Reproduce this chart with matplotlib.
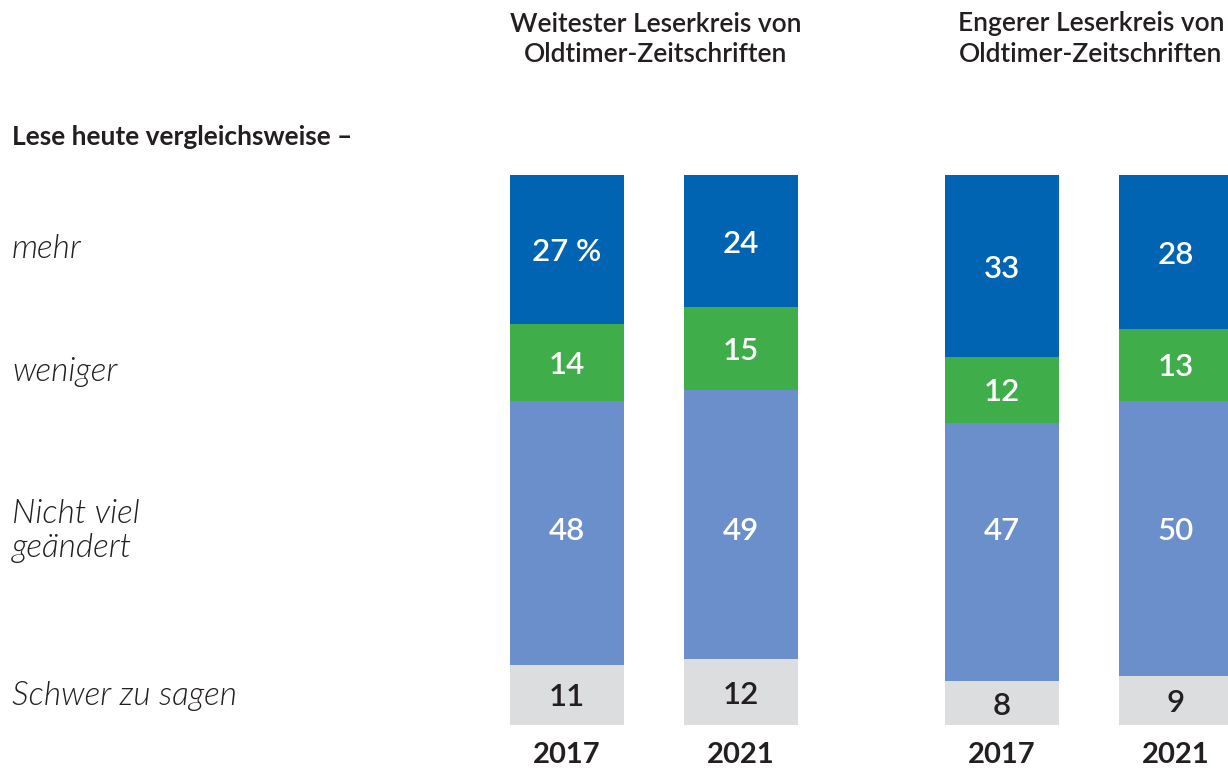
import matplotlib
matplotlib.use("Agg")
import matplotlib.pyplot as plt
import numpy as np

plt.rcParams['font.family'] = ['Lato', 'DejaVu Sans']

# Survey answers per column (percent)
years = ["2017", "2021", "2017", "2021"]
groups = ["Weitester Leserkreis von\nOldtimer-Zeitschriften",
          "Engerer Leserkreis von\nOldtimer-Zeitschriften"]
categories = ["Schwer zu sagen", "Nicht viel\ngeändert", "weniger", "mehr"]
schwer = [11, 12, 8, 9]
nicht_viel = [48, 49, 47, 50]
weniger = [14, 15, 12, 13]
mehr = [27, 24, 33, 28]

colors = ["#dcdddf", "#6a8fca", "#3fae4a", "#0064b3"]
text_colors = ["#231f20", "white", "white", "white"]
dark = "#231f20"

W, H = 1228, 771
fig = plt.figure(figsize=(W / 100, H / 100), dpi=100)

# axes spanning full width; bars sit at x = 0, 1, 2.5, 3.5
unit = 174.0
x0_px = 567.0
y_top, y_bot = 175.0, 725.0
ax = fig.add_axes([0, (H - y_bot) / H, 1, (y_bot - y_top) / H])
ax.set_xlim(-x0_px / unit, (W - x0_px) / unit)
ax.set_ylim(0, 100)
ax.axis("off")

px_per_unit = (y_bot - y_top) / 100.0


def px_to_data(yp):
    return (y_bot - yp) / px_per_unit


# row labels on the left, at fixed heights
row_y = [696, 531, 372, 249]
for cat, yp in zip(categories, row_y):
    fig.text(12 / W, 1 - yp / H, cat, ha="left", va="center", color=dark,
             fontsize=24, fontstyle="italic", fontweight=300,
             linespacing=1.2)

xpos = np.array([0, 1, 2.5, 3.5])
width = 114 / unit
series = [schwer, nicht_viel, weniger, mehr]
nudge = -0.5
bottom = np.zeros(4)
for si, (vals, col, tc) in enumerate(zip(series, colors, text_colors)):
    vals = np.array(vals, dtype=float)
    ax.bar(xpos, vals, width, bottom=bottom, color=col, linewidth=0)
    for i, (x, v, b) in enumerate(zip(xpos, vals, bottom)):
        label = f"{int(v)} %" if (si == 3 and i == 0) else f"{int(v)}"
        # the large middle block is labelled level with its row caption
        ty = px_to_data(row_y[1]) if si == 1 else b + v / 2 + nudge
        ax.text(x, ty, label, ha="center", va="center",
                color=tc, fontsize=22.5, fontweight="semibold", clip_on=False)
    bottom += vals

# year labels below each bar
for x, yr in zip(xpos, years):
    ax.text(x, px_to_data(755), yr, ha="center", va="center", color=dark,
            fontsize=21, fontweight="bold", clip_on=False)

# group headers
for gx, g in zip([(xpos[0] + xpos[1]) / 2, (xpos[2] + xpos[3]) / 2], groups):
    xf = (x0_px + gx * unit) / W
    fig.text(xf + 2 / W, 1 - 39 / H, g, ha="center", va="center", color=dark,
             fontsize=19, fontweight="semibold", linespacing=1.25)

fig.text(12 / W, 1 - 137 / H, "Lese heute vergleichsweise –", ha="left",
         va="center", color=dark, fontsize=19, fontweight="bold")

fig.savefig("out.png", dpi=100)
